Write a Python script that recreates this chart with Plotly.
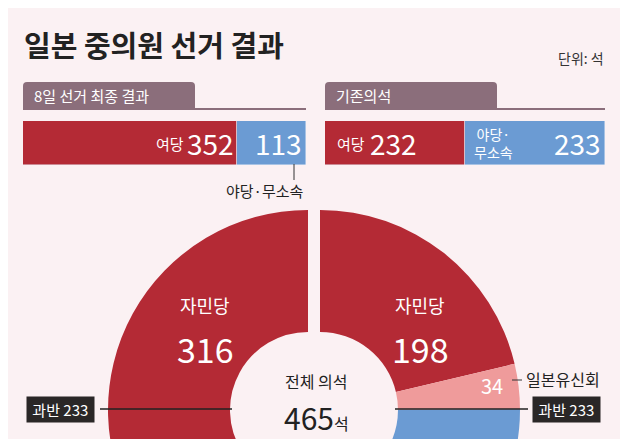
import plotly.graph_objects as go

W, H = 628, 640
OFF = 8  # page offset of the plot inside the browser window

# data
total_seats = 465
majority = 233
final_labels = ["여당", "야당·무소속"]
final_seats = [352, 113]
prev_labels = ["여당", "야당·무소속"]
prev_seats = [232, 233]
new_parties = ["자민당", "기타"]
new_party_seats = [316, 149]
old_parties = ["자민당", "일본유신회", "기타"]
old_party_seats = [198, 34, 233]

RED = "#b42a35"
BLUE = "#6b9bd3"
PINK = "#ef9b9b"
MAUVE = "#8b6e7b"
BG = "#fbf1f3"
FONT = "Noto Sans CJK KR"
CLEAR = "rgba(0,0,0,0)"


def px(x):
    return (x - OFF) / W


def py(y):
    return 1 - (y - OFF) / H


fig = go.Figure()

# stacked bars
fig.add_trace(go.Bar(y=[0], x=[final_seats[0]], orientation="h", marker_color=RED,
                     xaxis="x", yaxis="y", hoverinfo="skip"))
fig.add_trace(go.Bar(y=[0], x=[final_seats[1]], orientation="h", marker_color=BLUE,
                     xaxis="x", yaxis="y", hoverinfo="skip"))
fig.add_trace(go.Bar(y=[0], x=[prev_seats[0]], orientation="h", marker_color=RED,
                     xaxis="x2", yaxis="y2", hoverinfo="skip"))
fig.add_trace(go.Bar(y=[0], x=[prev_seats[1]], orientation="h", marker_color=BLUE,
                     xaxis="x2", yaxis="y2", hoverinfo="skip"))

# donut halves (each half = all seats over 180 degrees, starting at the top)
R = 200
cy = 410
halves = [
    (308, [total_seats] + new_party_seats[::-1], [CLEAR, BLUE, RED]),
    (320, old_party_seats + [total_seats], [RED, PINK, BLUE, CLEAR]),
]
for cx, vals, cols in halves:
    fig.add_trace(go.Pie(values=vals, sort=False, direction="clockwise", rotation=0,
                         hole=0.39, textinfo="none", hoverinfo="skip",
                         marker=dict(colors=cols, line=dict(width=0)),
                         domain=dict(x=[px(cx - R), px(cx + R)], y=[py(cy + R), py(cy - R)]),
                         showlegend=False))

shapes = []
# header tabs
for x0, x1, w1 in [(23, 195, 306), (325, 497, 605)]:
    shapes.append(dict(type="path", xref="paper", yref="paper",
                       path=f"M {px(x0)},{py(110)} L {px(x0)},{py(86)} Q {px(x0)},{py(82)} {px(x0+4)},{py(82)} "
                            f"L {px(x1-4)},{py(82)} Q {px(x1)},{py(82)} {px(x1)},{py(86)} L {px(x1)},{py(110)} Z",
                       fillcolor=MAUVE, line=dict(width=0)))
    shapes.append(dict(type="line", xref="paper", yref="paper", x0=px(x0), x1=px(w1),
                       y0=py(109), y1=py(109), line=dict(color=MAUVE, width=2)))
# tick under 113
shapes.append(dict(type="line", xref="paper", yref="paper", x0=px(294), x1=px(294),
                   y0=py(164), y1=py(180), line=dict(color="#333", width=1)))
# majority lines
shapes.append(dict(type="line", xref="paper", yref="paper", x0=px(100), x1=px(232),
                   y0=py(cy - 1), y1=py(cy - 1), line=dict(color="#222", width=1.5)))
shapes.append(dict(type="line", xref="paper", yref="paper", x0=px(395), x1=px(528),
                   y0=py(cy - 1), y1=py(cy - 1), line=dict(color="#222", width=1.5)))
shapes.append(dict(type="line", xref="paper", yref="paper", x0=px(512), x1=px(522),
                   y0=py(380), y1=py(380), line=dict(color="#333", width=1)))

ann = []


def text(x, y, s, size, color="white", xanchor="center", **kw):
    ann.append(dict(x=px(x), y=py(y), xref="paper", yref="paper", text=s, showarrow=False,
                    xanchor=xanchor, yanchor="middle", font=dict(size=size, color=color, family=FONT), **kw))


text(22, 44, "<b>일본 중의원 선거 결과</b>", 29, "#222", "left")
text(606, 58, "단위: 석", 14, "#333", "right")
text(32, 96, "8일 선거 최종 결과", 15, "white", "left")
text(334, 96, "기존의석", 15, "white", "left")

text(186, 143, final_labels[0], 15, "white", "right")
text(236, 143, f"{final_seats[0]}", 28, "white", "right")
text(278, 143, f"{final_seats[1]}", 28, "white", "center")
text(306, 190, final_labels[1], 15, "#222", "right")
text(335, 143, prev_labels[0], 15, "white", "left")
text(368, 143, f"{prev_seats[0]}", 28, "white", "left")
text(472, 143, "야당·<br>무소속", 14, "white", "left")
text(603, 143, f"{prev_seats[1]}", 28, "white", "right")

text(205, 305, new_parties[0], 18)
text(205, 348, f"{new_party_seats[0]}", 34)
text(420, 305, old_parties[0], 18)
text(420, 348, f"{old_party_seats[0]}", 34)
text(492, 385, f"{old_party_seats[1]}", 20)
text(524, 379, old_parties[1], 16, "#222", "left")
text(316, 381, "전체 의석", 16, "#222")
text(316, 417, f"{total_seats}<span style='font-size:16px'>석</span>", 30, "#222")
text(60, 409, f" 과반 {majority} ", 15, "white", bgcolor="#2a2727", borderpad=2)
text(566, 409, f" 과반 {majority} ", 15, "white", bgcolor="#2a2727", borderpad=2)

fig.update_layout(
    width=W, height=H, margin=dict(l=0, r=0, t=0, b=0),
    paper_bgcolor=BG, plot_bgcolor=BG, barmode="stack", bargap=0, showlegend=False,
    xaxis=dict(domain=[px(23), px(306)], range=[0, total_seats], visible=False, fixedrange=True),
    yaxis=dict(domain=[py(165), py(121)], range=[-0.5, 0.5], visible=False, fixedrange=True),
    xaxis2=dict(domain=[px(325), px(605)], range=[0, total_seats], visible=False, anchor="y2"),
    yaxis2=dict(domain=[py(165), py(121)], range=[-0.5, 0.5], visible=False, anchor="x2"),
    shapes=shapes, annotations=ann,
)

fig.write_html("out.html")
